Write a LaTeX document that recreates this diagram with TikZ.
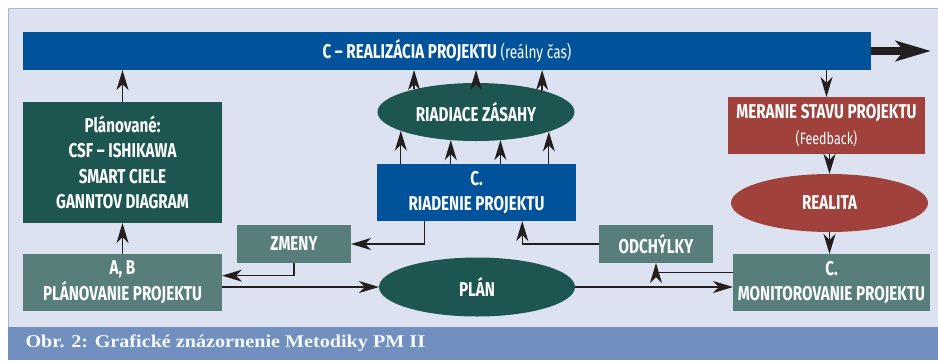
\documentclass[tikz,border=0pt]{standalone}
\usepackage{fontspec}
\usetikzlibrary{shapes.geometric,arrows.meta,calc}
\newfontfamily\uzky[FakeStretch=0.76]{Fira Sans}
\newfontfamily\titulok[FakeStretch=1.12]{Liberation Serif}
\newcommand{\velke}{\uzky\bfseries\fontsize{20}{25.5}\selectfont}
\newcommand{\male}{\uzky\mdseries\fontsize{16.5}{20}\selectfont}
\begin{document}
\begin{tikzpicture}[x=1pt, y=-1pt,
    blok/.style={fill=#1, text=white, font=\velke, align=center, inner sep=0pt, outer sep=0pt},
    elipsa/.style={ellipse, fill=#1, text=white, font=\velke, inner sep=0pt, outer sep=0pt, minimum width=197pt, minimum height=58pt},
    sip/.style={-{Stealth[length=20pt, width=12pt, inset=6pt]}, line width=1.3pt, sipka}]
    % Farby
    \definecolor{modra}{HTML}{00539B}
    \definecolor{tmava}{HTML}{1D5550}
    \definecolor{siva}{HTML}{577E7A}
    \definecolor{cervena}{HTML}{A0413C}
    \definecolor{pozadie}{HTML}{DCE2F0}
    \definecolor{okraj}{HTML}{A4B8DC}
    \definecolor{pruh}{HTML}{7190C0}
    \definecolor{sipka}{HTML}{231F20}

    \useasboundingbox (0,0) rectangle (938,360);

    % Pozadie a popis
    \fill[pozadie] (8,8) rectangle (938,327);
    \draw[okraj, line width=1pt] (8,327) -- (8,8) -- (938,8);
    \fill[pruh] (8,327) rectangle (938,360);
    \node[anchor=west, text=white!95!pruh, font=\titulok\bfseries\fontsize{18}{20}\selectfont] (popis) at (22,343) {Obr. 2: Grafické znázornenie Metodiky PM II};

    % Bloky
    \node[blok=modra, minimum width=848pt, minimum height=38pt] (realizacia) at (447,51) {C – REALIZÁCIA PROJEKTU {\male\fontsize{18}{20}\selectfont (reálny čas)}};
    \node[blok=tmava, minimum width=199pt, minimum height=121pt] (planovane) at (122.5,162.5) {Plánované:\\CSF – ISHIKAWA\\SMART CIELE\\GANNTOV DIAGRAM};
    \node[blok=siva, minimum width=199pt, minimum height=57pt] (planovanie) at (122.5,282.5) {A, B\\PLÁNOVANIE PROJEKTU};
    \node[blok=siva, minimum width=114pt, minimum height=38pt] (zmeny) at (294,244) {ZMENY};
    \node[blok=modra, minimum width=199pt, minimum height=57pt] (riadenie) at (476.5,192.5) {C.\\RIADENIE PROJEKTU};
    \node[blok=siva, minimum width=114pt, minimum height=38pt] (odchylky) at (656,244) {ODCHÝLKY};
    \node[blok=cervena, minimum width=197pt, minimum height=57pt] (meranie) at (826.5,125.5) {MERANIE STAVU PROJEKTU\\{\male (Feedback)}};
    \node[blok=siva, minimum width=197pt, minimum height=57pt] (monitorovanie) at (831.5,282.5) {C.\\MONITOROVANIE PROJEKTU};

    % Elipsy
    \node[elipsa=tmava] (zasahy) at (476,112) {RIADIACE ZÁSAHY};
    \node[elipsa=tmava, minimum width=196pt, minimum height=59pt] (plan) at (477,287) {PLÁN};
    \node[elipsa=cervena] (realita) at (829.5,203) {REALITA};

    % Sipky medzi riadenim a zasahmi
    \foreach \uhol in {194.1, 228.2, 311.8, 345.9}
        \draw[sip] (zasahy.\uhol |- riadenie.north) -- (zasahy.\uhol);
    \foreach \uhol in {160.5, 90, 18.5}
        \draw[sip] (zasahy.\uhol) -- (zasahy.\uhol |- realizacia.south);

    % Lava strana
    \draw[sip] (planovane.north) -- (planovane.north |- realizacia.south);
    \draw[sip] (planovanie.north) -- (planovanie.north |- planovane.south);
    \draw[sip] ($(riadenie.south west)!0.24!(riadenie.south east)$) |- (zmeny.east);
    \draw[sip] (zmeny.south) |- ($(planovanie.north east)!0.38!(planovanie.south east)$);
    \draw[sip] (planovanie.east |- plan.west) -- (plan.west);
    \draw[sip] (plan.east) -- (plan.east -| monitorovanie.west);

    % Prava strana
    \draw[sip] ($(monitorovanie.north west)!0.33!(monitorovanie.south west)$) -| (odchylky.south);
    \draw[sip] (odchylky.west) -| ($(riadenie.south west)!0.73!(riadenie.south east)$);
    \draw[sip] (meranie.north |- realizacia.south) -- (meranie.north);
    \draw[sip] (realita.north |- meranie.south) -- (realita.north);
    \draw[sip] (realita.south) -- (realita.south |- monitorovanie.north);

    % Hruba sipka (cas)
    \coordinate (koniec) at (931,51);
    \draw[-{Stealth[length=35pt, width=20pt, inset=8pt]}, line width=8pt, sipka] (realizacia.east) -- (koniec);
\end{tikzpicture}
\end{document}
